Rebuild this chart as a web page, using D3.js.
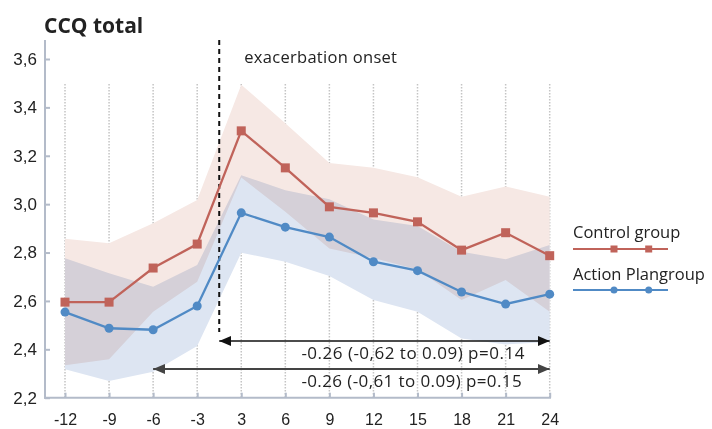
<!DOCTYPE html>
<html><head><meta charset="utf-8">
<script src="https://cdn.jsdelivr.net/npm/d3@7"></script>
<style>
html,body{margin:0;padding:0;background:#fff;}
svg{display:block;font-family:"Open Sans","Noto Sans",sans-serif;}
</style></head>
<body>
<svg id="chart" width="712" height="429"></svg>
<script>
const categories = ["-12","-9","-6","-3","3","6","9","12","15","18","21","24"];
const control      = [2.595,2.595,2.736,2.835,3.303,3.150,2.989,2.964,2.927,2.810,2.882,2.787];
const controlUpper = [2.857,2.838,2.921,3.017,3.494,3.334,3.170,3.150,3.111,3.031,3.073,3.031];
const controlLower = [2.334,2.359,2.555,2.679,3.110,2.969,2.817,2.777,2.730,2.604,2.686,2.555];
const action       = [2.554,2.487,2.481,2.579,2.964,2.905,2.864,2.762,2.725,2.637,2.587,2.628];
const actionUpper  = [2.776,2.714,2.659,2.748,3.120,3.058,3.020,2.937,2.910,2.803,2.772,2.831];
const actionLower  = [2.318,2.269,2.307,2.414,2.799,2.762,2.703,2.604,2.555,2.445,2.420,2.430];
const yTicks = [2.2,2.4,2.6,2.8,3.0,3.2,3.4,3.6];
const seriesNames = ["Control group","Action Plangroup"];
const annotations = ["-0.26 (-0,62 to 0.09) p=0.14","-0.26 (-0,61 to 0.09) p=0.15"];

const red = "#c0635a", blue = "#508ac5";
const svg = d3.select("#chart");
const x = d3.scalePoint().domain(categories).range([65, 549.7]);
const y = d3.scaleLinear().domain([2.2, 3.6]).range([397.7, 59]);

// vertical dotted grid
svg.append("g").selectAll("line").data(categories).join("line")
  .attr("x1", d => x(d)).attr("x2", d => x(d))
  .attr("y1", 84).attr("y2", 397)
  .attr("stroke", "#c4c4c4").attr("stroke-width", 1.5).attr("stroke-dasharray", "1.5,1.5");

// bands
const bandsG = svg.append("g").style("isolation", "isolate");
function band(upper, lower, fill) {
  const data = categories.map((c, i) => ({c, u: upper[i], l: lower[i]}));
  bandsG.append("path").datum(data)
    .attr("d", d3.area().x(d => x(d.c)).y0(d => y(d.l)).y1(d => y(d.u)))
    .attr("fill", fill).style("mix-blend-mode", "multiply");
}
band(controlUpper, controlLower, "#f6e8e4");
band(actionUpper, actionLower, "#dde5f2");

// axes
const yAxis = d3.axisLeft(y).tickValues(yTicks).tickSizeInner(-5).tickSizeOuter(0).tickPadding(8)
  .tickFormat(d => d3.format(".1f")(d).replace(".", ","));
const gy = svg.append("g").attr("transform", "translate(45,0)").call(yAxis);
gy.select(".domain").remove();
gy.selectAll(".tick line").attr("stroke", "#b3bbc9").attr("stroke-width", 2);
gy.selectAll("text").attr("font-size", 17).attr("fill", "#222");
svg.append("line").attr("x1", 45).attr("x2", 45).attr("y1", 40).attr("y2", 398.7)
  .attr("stroke", "#b3bbc9").attr("stroke-width", 2);

const xAxis = d3.axisBottom(x).tickSizeInner(-5).tickSizeOuter(0).tickPadding(16);
const gx = svg.append("g").attr("transform", "translate(0,397.7)").call(xAxis);
gx.select(".domain").remove();
gx.selectAll(".tick line").attr("stroke", "#b3bbc9").attr("stroke-width", 2);
gx.selectAll("text").attr("font-size", 16).attr("fill", "#222");
svg.append("line").attr("x1", 44).attr("x2", 551).attr("y1", 397.7).attr("y2", 397.7)
  .attr("stroke", "#b3bbc9").attr("stroke-width", 2);

// exacerbation onset dashed line
const onsetX = (x("-3") + x("3")) / 2;
svg.append("line").attr("x1", onsetX).attr("x2", onsetX).attr("y1", 40).attr("y2", 332)
  .attr("stroke", "#111").attr("stroke-width", 2).attr("stroke-dasharray", "5,4");
svg.append("text").attr("x", onsetX + 25).attr("y", 63).attr("font-size", 16.5).attr("fill", "#222")
  .attr("letter-spacing", 0.3).text("exacerbation onset");

// lines
const line = d3.line().x((d, i) => x(categories[i])).y(d => y(d));
svg.append("path").datum(control).attr("d", line).attr("fill", "none")
  .attr("stroke", red).attr("stroke-width", 2.3);
svg.append("g").selectAll("rect").data(control).join("rect")
  .attr("x", (d, i) => x(categories[i]) - 4.5).attr("y", d => y(d) - 4.5)
  .attr("width", 9).attr("height", 9).attr("fill", red);
svg.append("path").datum(action).attr("d", line).attr("fill", "none")
  .attr("stroke", blue).attr("stroke-width", 2.3);
svg.append("g").selectAll("circle").data(action).join("circle")
  .attr("cx", (d, i) => x(categories[i])).attr("cy", d => y(d)).attr("r", 4.5).attr("fill", blue);

// arrows
const defs = svg.append("defs");
function marker(id, color) {
  defs.append("marker").attr("id", id).attr("viewBox", "0 0 12 10").attr("refX", 12).attr("refY", 5)
    .attr("markerWidth", 12).attr("markerHeight", 10).attr("markerUnits", "userSpaceOnUse")
    .attr("orient", "auto-start-reverse")
    .append("path").attr("d", "M0,0 L12,5 L0,10 Z").attr("fill", color);
}
marker("ah1", "#111");
marker("ah2", "#444");
svg.append("line").attr("x1", onsetX).attr("x2", x("24")).attr("y1", 341).attr("y2", 341)
  .attr("stroke", "#111").attr("stroke-width", 1.6)
  .attr("marker-start", "url(#ah1)").attr("marker-end", "url(#ah1)");
svg.append("line").attr("x1", x("-6")).attr("x2", x("24")).attr("y1", 369).attr("y2", 369)
  .attr("stroke", "#444").attr("stroke-width", 2)
  .attr("marker-start", "url(#ah2)").attr("marker-end", "url(#ah2)");
svg.append("text").attr("x", x("9") - 28).attr("y", 358.5).attr("font-size", 17).attr("letter-spacing", 0.5)
  .attr("fill", "#222").text(annotations[0]);
svg.append("text").attr("x", x("9") - 28).attr("y", 386.5).attr("font-size", 17).attr("letter-spacing", 0.4)
  .attr("fill", "#222").text(annotations[1]);

// title
svg.append("text").attr("x", 44).attr("y", 33).attr("font-size", 21).attr("font-weight", "bold")
  .attr("fill", "#222").text("CCQ total");

// legend
const leg = [{name: seriesNames[0], color: red, sq: true, ty: 238, ly: 249},
             {name: seriesNames[1], color: blue, sq: false, ty: 280, ly: 290}];
leg.forEach(l => {
  svg.append("text").attr("x", 573).attr("y", l.ty).attr("font-size", 16.5).attr("fill", "#222").text(l.name);
  svg.append("line").attr("x1", 573).attr("x2", 668).attr("y1", l.ly).attr("y2", l.ly)
    .attr("stroke", l.color).attr("stroke-width", 2);
  [614, 648.7].forEach(mx => {
    if (l.sq) svg.append("rect").attr("x", mx - 3.5).attr("y", l.ly - 3.5).attr("width", 7).attr("height", 7).attr("fill", l.color);
    else svg.append("circle").attr("cx", mx).attr("cy", l.ly).attr("r", 3.5).attr("fill", l.color);
  });
});
</script>
</body></html>
